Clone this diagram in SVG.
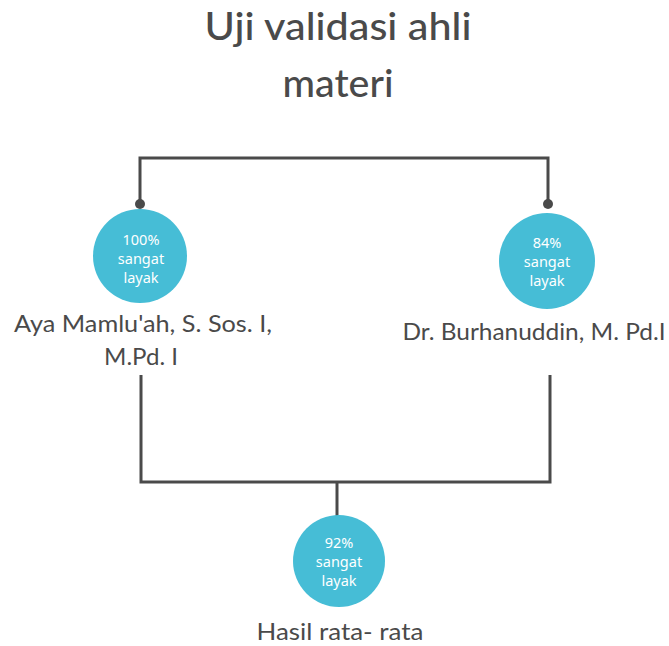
<svg xmlns="http://www.w3.org/2000/svg" width="669" height="646" viewBox="0 0 669 646">
<style>
.title{font-family:"Lato","Open Sans",sans-serif;font-size:38px;fill:#4a4a4a;text-anchor:middle;font-weight:500}
.label{font-family:"Lato","Open Sans",sans-serif;font-size:23px;fill:#4a4a4a;text-anchor:middle;font-weight:400}
.inner{font-family:"Noto Sans","Open Sans",sans-serif;font-size:14.5px;fill:#ffffff;text-anchor:middle}
.circ{fill:#46bdd6}
.conn{fill:none;stroke:#4a4a4a;stroke-width:3;stroke-linejoin:miter}
.dot{fill:#4a4a4a}
</style>
<rect width="669" height="646" fill="#ffffff"/>
<g id="title">
<text class="title" x="338" y="40" textLength="267" lengthAdjust="spacingAndGlyphs">Uji validasi ahli</text>
<text class="title" x="338" y="97" textLength="111" lengthAdjust="spacingAndGlyphs">materi</text>
</g>
<g id="connectors">
<path class="conn" d="M140 204 V158 H548 V204"/>
<circle class="dot" cx="140" cy="204" r="5"/>
<circle class="dot" cx="548" cy="204" r="5"/>
<path class="conn" d="M141 375 V482 H550 V375"/>
<path class="conn" d="M337 482 V516"/>
</g>
<g id="node-aya">
<circle class="circ" cx="140" cy="256" r="47"/>
<text class="inner" x="141" y="245">100%</text>
<text class="inner" x="141" y="264">sangat</text>
<text class="inner" x="141" y="283">layak</text>
<text class="label" x="143" y="332" textLength="258" lengthAdjust="spacingAndGlyphs">Aya Mamlu'ah, S. Sos. I,</text>
<text class="label" x="141" y="365" textLength="74" lengthAdjust="spacingAndGlyphs">M.Pd. I</text>
</g>
<g id="node-burhanuddin">
<circle class="circ" cx="547" cy="261" r="48"/>
<text class="inner" x="547" y="248">84%</text>
<text class="inner" x="547" y="267">sangat</text>
<text class="inner" x="547" y="286">layak</text>
<text class="label" x="534" y="340" textLength="263" lengthAdjust="spacingAndGlyphs">Dr. Burhanuddin, M. Pd.I</text>
</g>
<g id="node-hasil">
<circle class="circ" cx="339" cy="561" r="46"/>
<text class="inner" x="339" y="548">92%</text>
<text class="inner" x="339" y="567">sangat</text>
<text class="inner" x="339" y="586">layak</text>
<text class="label" x="340" y="640" textLength="167" lengthAdjust="spacingAndGlyphs">Hasil rata- rata</text>
</g>
</svg>
